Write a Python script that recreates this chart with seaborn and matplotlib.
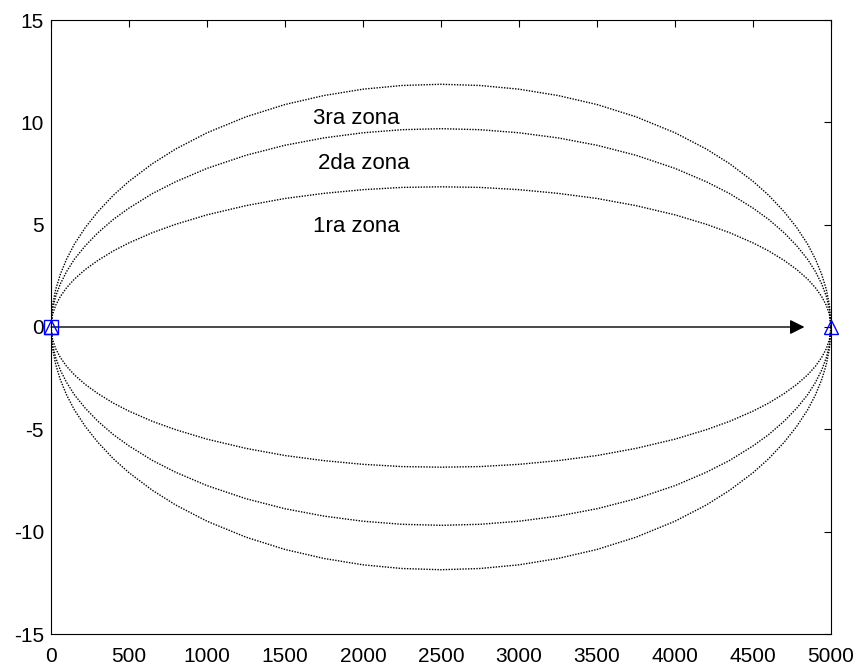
import numpy as np
import pandas as pd
import matplotlib
matplotlib.use('Agg')
import matplotlib.pyplot as plt
import seaborn as sns

# distances along the path (m)
dist = [0, 10, 30, 60, 100, 150, 220, 300, 400, 500, 650, 800, 1000, 1250,
        1500, 1750, 2000, 2250, 2500, 2750, 3000, 3250, 3500, 3750, 4000,
        4200, 4350, 4500, 4600, 4700, 4780, 4850, 4900, 4940, 4970, 4990, 5000]
# upper half of each zone
zona1 = [0, 0.61, 1.06, 1.49, 1.92, 2.34, 2.81, 3.25, 3.72, 4.11, 4.61, 5.02,
         5.48, 5.93, 6.28, 6.53, 6.71, 6.82, 6.85, 6.82, 6.71, 6.53, 6.28,
         5.93, 5.48, 5.02, 4.61, 4.11, 3.72, 3.25, 2.81, 2.34, 1.92, 1.49,
         1.06, 0.61, 0]
zona2 = [0, 0.87, 1.50, 2.11, 2.71, 3.31, 3.97, 4.60, 5.26, 5.81, 6.52, 7.10,
         7.75, 8.39, 8.88, 9.24, 9.49, 9.64, 9.69, 9.64, 9.49, 9.24, 8.88,
         8.39, 7.75, 7.10, 6.52, 5.81, 5.26, 4.60, 3.97, 3.31, 2.71, 2.11,
         1.50, 0.87, 0]
zona3 = [0, 1.06, 1.83, 2.58, 3.32, 4.05, 4.86, 5.63, 6.44, 7.12, 7.98, 8.70,
         9.49, 10.27, 10.87, 11.31, 11.62, 11.80, 11.86, 11.80, 11.62, 11.31,
         10.87, 10.27, 9.49, 8.70, 7.98, 7.12, 6.44, 5.63, 4.86, 4.05, 3.32,
         2.58, 1.83, 1.06, 0]

labels = ['1ra zona', '2da zona', '3ra zona']
label_x = [1680, 1712, 1680]
label_y = [4.9, 8.0, 10.2]

tx = [0, 5000]   # transmisor / receptor
arrow_end = 4830

sns.set_style('white')
plt.rcParams['font.family'] = ['Liberation Sans', 'DejaVu Sans']
plt.rcParams['axes.unicode_minus'] = False
plt.rcParams['text.color'] = 'k'

fig = plt.figure(figsize=(8.59, 6.67), dpi=100)
ax = fig.add_axes([51/859, 33/667, 780/859, 614/667])

rows = []
for name, z in zip(labels, [zona1, zona2, zona3]):
    for sgn, tag in [(1, 'sup'), (-1, 'inf')]:
        for d, v in zip(dist, z):
            rows.append({'d': d, 'r': sgn * v, 'curva': name + tag})
df = pd.DataFrame(rows)

for c, g in df.groupby('curva'):
    sns.lineplot(data=g, x='d', y='r', ax=ax, color='k', sort=False,
                 linewidth=1.0, linestyle=(0, (1, 1)), estimator=None)

ax.annotate('', xy=(arrow_end, 0), xytext=(0, 0),
            arrowprops=dict(arrowstyle='-|>', color='k', lw=1,
                            mutation_scale=22, shrinkA=0, shrinkB=0))

ax.plot([0], [0], 's', mfc='none', mec='blue', ms=10, mew=1,
        clip_on=False, zorder=5)
ax.plot(tx, [0, 0], '^', mfc='none', mec='blue', ms=10, mew=1, ls='none',
        clip_on=False, zorder=5)

for t, x, y in zip(labels, label_x, label_y):
    ax.text(x, y, t, fontsize=16, va='center', ha='left', color='k')

ax.set_xlim(0, 5000)
ax.set_ylim(-15, 15)
ax.set_xticks(np.arange(0, 5001, 500))
ax.set_yticks(np.arange(-15, 16, 5))
ax.set_xlabel('')
ax.set_ylabel('')
ax.tick_params(direction='in', top=True, right=True, length=5,
               labelsize=15, colors='k')
ax.tick_params(axis='x', pad=9)
ax.tick_params(axis='y', pad=5)
for s in ax.spines.values():
    s.set_color('k')
    s.set_linewidth(0.8)

fig.savefig('out.png', dpi=100)
